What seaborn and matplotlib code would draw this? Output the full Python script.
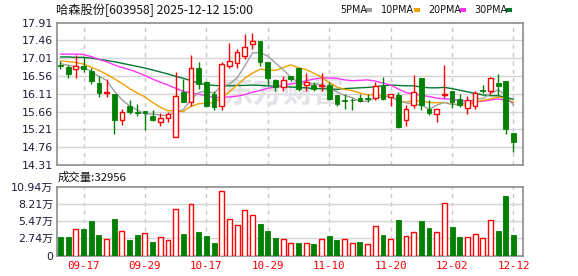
import numpy as np
import pandas as pd
import matplotlib
matplotlib.use('Agg')
import matplotlib.pyplot as plt
import seaborn as sns
from matplotlib.patches import Rectangle

sns.set_theme(style='white')
plt.rcParams['font.family'] = ['DejaVu Sans', 'Noto Sans CJK SC']

title = '哈森股份[603958] 2025-12-12 15:00'
vol_title = '成交量:32956'
watermark = '东方财富'
date_labels = ['09-17', '09-29', '10-17', '10-29', '11-10', '11-20', '12-02', '12-12']
date_idx = [3, 11, 19, 27, 35, 43, 51, 59]
price_ticks = [14.31, 14.76, 15.21, 15.66, 16.11, 16.56, 17.01, 17.46, 17.91]
vol_ticks = [0, 2.74, 5.47, 8.21, 10.94]
vol_tick_labels = ['0', '2.74万', '5.47万', '8.21万', '10.94万']
ma_names = ['5PMA', '10PMA', '20PMA', '30PMA']
ma_colors = ['#a0a0a0', '#f0a000', '#ff33ff', '#007a30']

open_ = [16.83, 16.775, 16.73, 16.82, 16.69, 16.38, 16.12, 16.11, 15.44, 15.81,
         15.66, 15.67, 15.56, 15.40, 15.50, 15.02, 16.15, 15.91, 16.76, 16.40,
         16.11, 15.81, 16.82, 16.88, 17.07, 17.36, 17.44, 16.92, 16.46, 16.29,
         16.57, 16.75, 16.32, 16.33, 16.31, 16.33, 16.08, 15.94, 15.96, 16.00,
         16.00, 16.00, 16.30, 16.02, 16.09, 15.44, 15.83, 16.51, 15.73, 15.61,
         16.09, 16.19, 15.98, 15.75, 15.81, 16.21, 16.17, 16.38, 16.44, 15.13]
high = [16.94, 16.84, 17.08, 17.03, 16.77, 16.57, 16.48, 16.11, 15.73, 15.94,
        15.85, 15.67, 15.69, 15.63, 15.66, 16.65, 16.48, 17.08, 16.90, 16.44,
        16.19, 16.90, 17.40, 17.23, 17.61, 17.65, 17.44, 16.92, 16.48, 16.57,
        16.57, 16.75, 16.63, 16.40, 16.63, 16.40, 16.08, 16.11, 16.00, 16.11,
        16.11, 16.40, 16.53, 16.11, 16.15, 15.83, 16.58, 16.51, 15.94, 15.73,
        16.84, 16.19, 16.11, 16.06, 16.17, 16.33, 16.53, 16.61, 16.44, 15.13]
low = [16.73, 16.52, 16.52, 16.65, 16.36, 16.02, 16.02, 15.10, 15.31, 15.61,
       15.55, 15.19, 15.42, 15.30, 15.40, 15.02, 15.91, 15.81, 16.24, 15.77,
       15.69, 15.69, 16.77, 16.77, 16.98, 17.23, 16.80, 16.33, 16.19, 16.19,
       16.44, 16.19, 16.17, 16.19, 16.19, 15.94, 15.80, 15.73, 15.69, 15.90,
       15.90, 15.94, 15.96, 15.81, 15.25, 15.30, 15.75, 15.69, 15.58, 15.40,
       16.00, 15.75, 15.77, 15.61, 15.73, 16.12, 16.11, 16.06, 15.10, 14.63]
close = [16.81, 16.62, 16.82, 16.73, 16.44, 16.12, 16.16, 15.44, 15.65, 15.64,
         15.62, 15.63, 15.44, 15.51, 15.61, 16.06, 15.91, 16.76, 16.36, 15.81,
         15.77, 16.86, 16.94, 17.17, 17.29, 17.44, 16.92, 16.50, 16.29, 16.46,
         16.48, 16.23, 16.40, 16.23, 16.34, 15.98, 15.86, 15.92, 15.94, 15.92,
         15.98, 16.31, 15.98, 16.10, 15.27, 15.73, 16.16, 15.83, 15.63, 15.73,
         16.11, 15.90, 15.83, 15.94, 16.12, 16.18, 16.50, 16.31, 15.23, 14.90]
vol_wan = [2.91, 2.91, 4.28, 4.18, 5.44, 3.22, 2.54, 5.76, 3.86, 2.43,
           3.22, 3.54, 2.11, 3.01, 2.38, 7.45, 3.38, 8.24, 3.70, 3.07,
           2.01, 10.25, 5.76, 4.81, 7.19, 6.40, 5.02, 3.86, 2.75, 2.54,
           1.96, 1.96, 1.96, 1.80, 2.54, 3.07, 2.43, 2.54, 1.96, 2.11,
           1.80, 4.65, 3.22, 2.54, 5.60, 3.07, 3.65, 5.44, 4.33, 3.65,
           8.40, 4.49, 2.91, 3.01, 3.33, 2.70, 5.65, 3.86, 9.41, 3.2956]
ma5 = [16.87, 16.83, 16.80, 16.76, 16.68, 16.55, 16.45, 16.18, 15.96, 15.80,
       15.70, 15.60, 15.60, 15.57, 15.56, 15.65, 15.71, 15.97, 16.14, 16.18,
       16.12, 16.31, 16.35, 16.51, 16.81, 17.14, 17.15, 17.06, 16.89, 16.72,
       16.53, 16.39, 16.37, 16.36, 16.34, 16.24, 16.16, 16.07, 16.01, 15.92,
       15.92, 16.01, 16.03, 16.06, 15.93, 15.88, 15.85, 15.82, 15.72, 15.82,
       15.89, 15.84, 15.84, 15.90, 15.98, 15.99, 16.11, 16.21, 16.07, 15.82]
ma10 = [16.94, 16.92, 16.90, 16.86, 16.78, 16.70, 16.60, 16.49, 16.37, 16.24,
        16.13, 16.03, 15.89, 15.77, 15.68, 15.68, 15.66, 15.79, 15.86, 15.87,
        15.89, 16.01, 16.16, 16.33, 16.50, 16.63, 16.73, 16.71, 16.70, 16.77,
        16.84, 16.77, 16.72, 16.63, 16.53, 16.39, 16.28, 16.22, 16.19, 16.13,
        16.08, 16.09, 16.05, 16.04, 15.93, 15.90, 15.93, 15.93, 15.89, 15.88,
        15.89, 15.85, 15.83, 15.81, 15.90, 15.94, 15.98, 16.03, 15.99, 15.90]
ma20 = [17.11, 17.11, 17.11, 17.10, 17.05, 16.98, 16.92, 16.84, 16.77, 16.72,
        16.65, 16.57, 16.48, 16.40, 16.33, 16.25, 16.17, 16.13, 16.10, 16.06,
        16.01, 16.02, 16.03, 16.05, 16.09, 16.15, 16.19, 16.25, 16.28, 16.32,
        16.36, 16.39, 16.44, 16.48, 16.51, 16.51, 16.50, 16.46, 16.44, 16.45,
        16.46, 16.43, 16.38, 16.33, 16.23, 16.14, 16.10, 16.07, 16.04, 16.00,
        15.98, 15.97, 15.94, 15.92, 15.91, 15.92, 15.95, 15.98, 15.94, 15.89]
ma30 = [17.04, 17.04, 17.03, 17.03, 17.01, 16.98, 16.95, 16.92, 16.88, 16.84,
        16.80, 16.76, 16.71, 16.66, 16.61, 16.55, 16.50, 16.44, 16.38, 16.34,
        16.32, 16.31, 16.31, 16.32, 16.32, 16.33, 16.32, 16.31, 16.30, 16.29,
        16.28, 16.27, 16.26, 16.24, 16.24, 16.23, 16.22, 16.24, 16.25, 16.26,
        16.27, 16.29, 16.31, 16.33, 16.32, 16.31, 16.31, 16.28, 16.26, 16.26,
        16.27, 16.24, 16.20, 16.16, 16.12, 16.08, 16.06, 16.06, 16.02, 15.97]

RED = '#ff0000'
GREEN = '#008000'
GRID = '#d4d4d4'
SPINE = '#8c8c8c'
LABEL = '#1c1c38'

df = pd.DataFrame({'open': open_, 'high': high, 'low': low, 'close': close,
                   'vol': vol_wan, 'ma5': ma5, 'ma10': ma10, 'ma20': ma20, 'ma30': ma30})
df['i'] = np.arange(len(df))
df['up'] = df['close'] > df['open']
prev = df['close'].shift(1)
df['vup'] = (df['close'] > prev)
df.loc[0, 'vup'] = df.loc[0, 'close'] > df.loc[0, 'open']
df['btop'] = df[['open', 'close']].max(axis=1)
df['bbot'] = df[['open', 'close']].min(axis=1)
df['bh'] = (df['btop'] - df['bbot']).clip(lower=0.004)

W, H = 578, 276
fig = plt.figure(figsize=(W / 100, H / 100), dpi=100)
fig.patch.set_facecolor('white')


def rect(l, t, r, b):
    return [l / W, 1 - b / H, (r - l) / W, (b - t) / H]


axp = fig.add_axes(rect(56.5, 22.5, 523, 165))
axv = fig.add_axes(rect(56.5, 186.5, 523, 255.5))

n = len(df)
xl = (-0.52, n - 1 + 1.24)

for ax in (axp, axv):
    ax.set_facecolor('white')
    ax.set_xlim(*xl)
    for s in ax.spines.values():
        s.set_color(SPINE)
        s.set_linewidth(1.2)
    for xi in date_idx:
        ax.axvline(xi, color='#c8c8c8', lw=1, dashes=(3, 3), zorder=0)
    ax.tick_params(length=0, pad=2.5)

# price panel
axp.set_ylim(price_ticks[0], price_ticks[-1])
axp.set_yticks(price_ticks)
axp.set_yticklabels([f'{t:.2f}' for t in price_ticks], fontsize=7.9, color=LABEL)
for t in price_ticks[1:-1]:
    axp.axhline(t, color=GRID, lw=1, zorder=0)
axp.set_xticks(date_idx)
axp.set_xticklabels([])

axp.text(29.0, 16.13, watermark, fontsize=22, color='#e3e3e8', ha='center', va='center',
         family=['Noto Sans CJK SC'], fontweight='bold', zorder=0.5)

for col, c in zip(['ma30', 'ma20', 'ma10', 'ma5'], ma_colors[::-1]):
    sns.lineplot(data=df, x='i', y=col, color=c, lw=1, ax=axp, zorder=2, legend=False)

upd = df[df['up']]
dnd = df[~df['up']]
axp.vlines(upd['i'], upd['btop'], upd['high'], color=RED, lw=1, zorder=3)
axp.vlines(upd['i'], upd['low'], upd['bbot'], color=RED, lw=1, zorder=3)
axp.vlines(dnd['i'], dnd['low'], dnd['high'], color=GREEN, lw=1, zorder=3)
axp.bar(upd['i'], upd['bh'], bottom=upd['bbot'], width=0.62, facecolor='white',
        edgecolor=RED, linewidth=1, zorder=4)
axp.bar(dnd['i'], dnd['bh'], bottom=dnd['bbot'], width=0.62, facecolor=GREEN,
        edgecolor=GREEN, linewidth=0.6, zorder=4)
axp.set_xlabel('')
axp.set_ylabel('')

# volume panel
axv.set_ylim(0, vol_ticks[-1])
axv.set_yticks(vol_ticks)
axv.set_yticklabels(vol_tick_labels, fontsize=7.9, color=LABEL)
for t in vol_ticks[1:-1]:
    axv.axhline(t, color=GRID, lw=1, zorder=0)
vu = df[df['vup']]
vd = df[~df['vup']]
axv.bar(vu['i'], vu['vol'], width=0.64, facecolor='white', edgecolor=RED, linewidth=1, zorder=3)
axv.bar(vd['i'], vd['vol'], width=0.64, facecolor=GREEN, edgecolor=GREEN, linewidth=0.6, zorder=3)
axv.set_xticks(date_idx)
axv.set_xticklabels(date_labels, fontsize=7.8, color=RED, family='DejaVu Sans Mono')
axv.tick_params(axis='x', pad=4)

# texts
fig.text(56 / W, 1 - 10 / H, title, fontsize=8.8, color='#111111', ha='left', va='center',
         family=['Noto Sans CJK SC', 'DejaVu Sans'])
fig.text(58 / W, 1 - 177.5 / H, vol_title, fontsize=8.2, color='#111111', ha='left', va='center',
         family=['Noto Sans CJK SC', 'DejaVu Sans'])

leg_x = [340, 381, 428, 474]
sq_x = [366, 414, 460, 506]
for name, c, lx, sx in zip(ma_names, ma_colors, leg_x, sq_x):
    fig.text(lx / W, 1 - 10 / H, name, fontsize=6.9, color='#111111', ha='left', va='center')
    fig.patches.append(Rectangle((sx / W, 1 - 12 / H), 6 / W, 4 / H, transform=fig.transFigure,
                                 facecolor=c, edgecolor='none'))

fig.savefig('out.png', dpi=100, facecolor='white')
